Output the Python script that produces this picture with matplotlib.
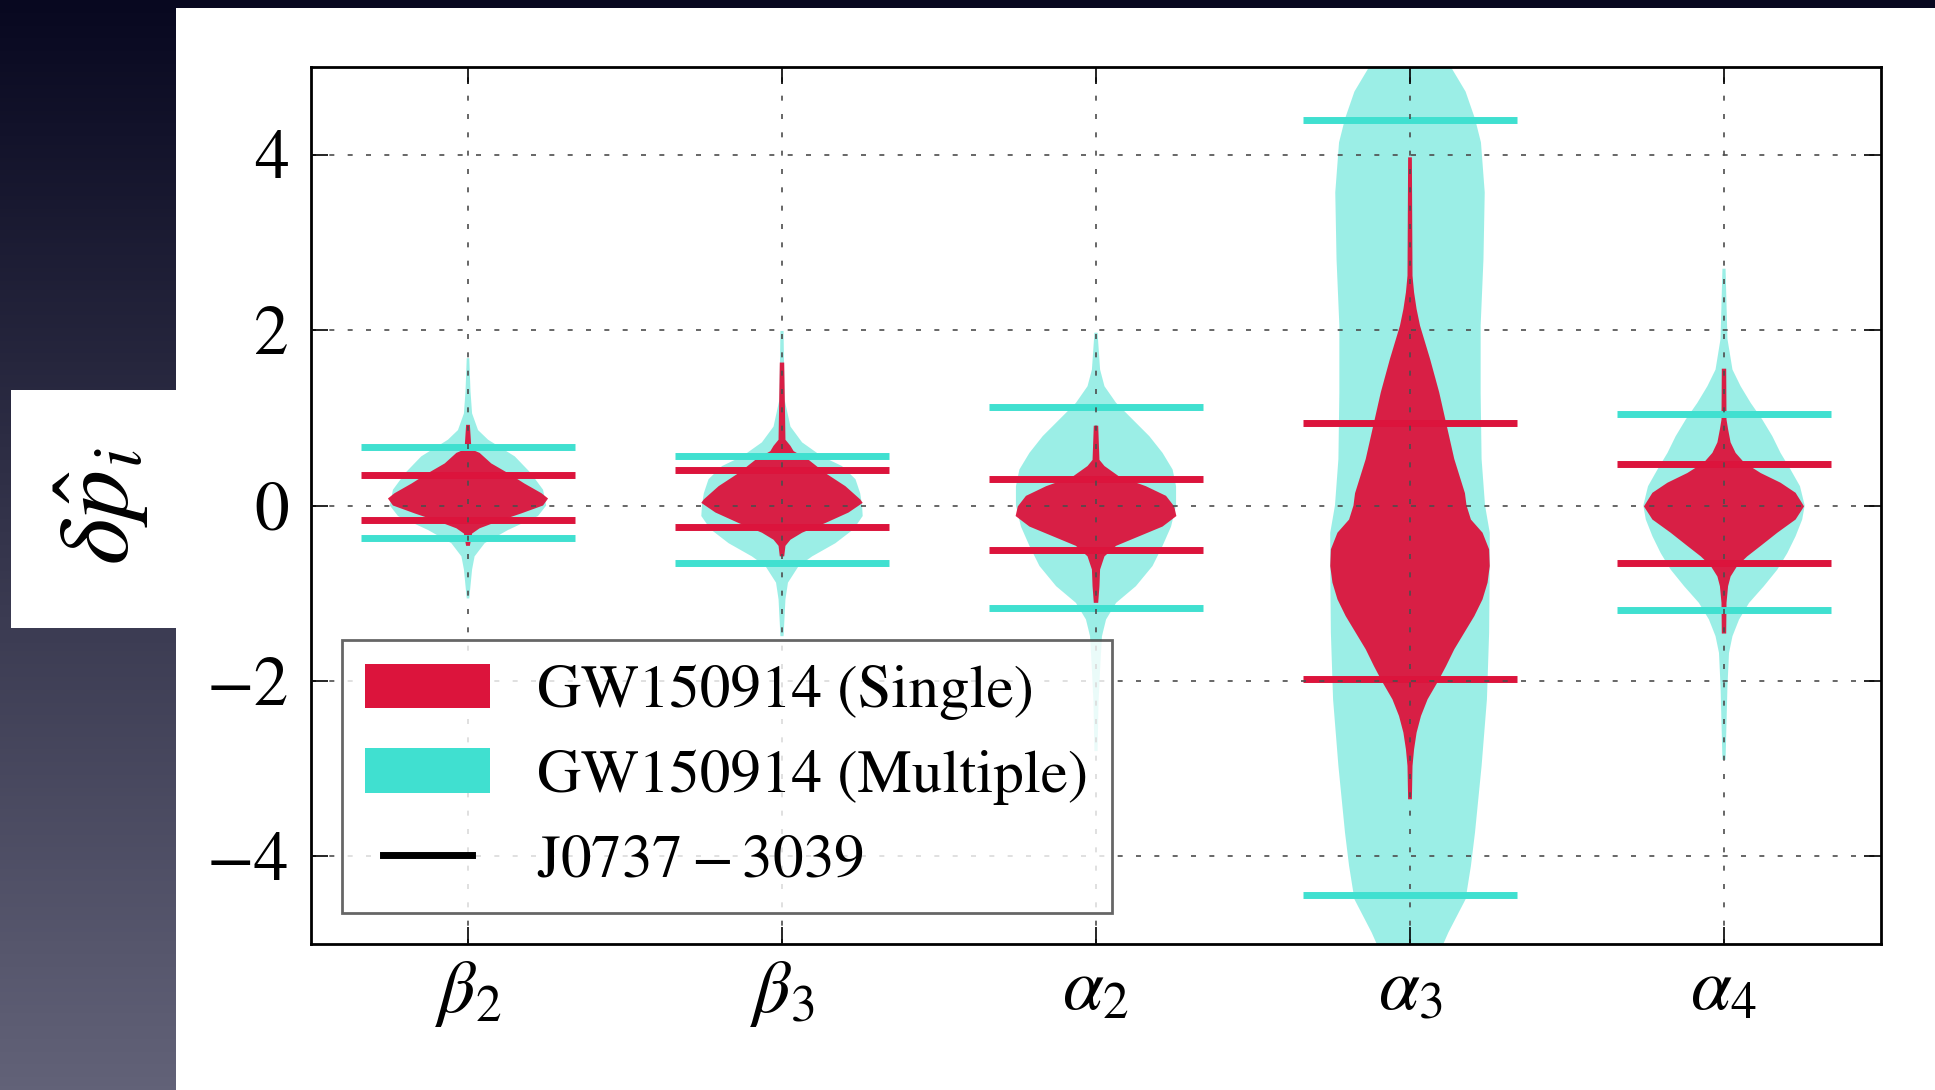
import numpy as np
import matplotlib.pyplot as plt
from matplotlib.patches import Patch, Rectangle
from matplotlib.lines import Line2D

plt.rcParams['font.family'] = 'STIXGeneral'
plt.rcParams['mathtext.fontset'] = 'stix'

# --- Parameters ---
params = [r'$\beta_2$', r'$\beta_3$', r'$\alpha_2$', r'$\alpha_3$', r'$\alpha_4$']
positions = [1, 2, 3, 4, 5]

# --- Violin outlines: y value and half-width of each posterior ---
b2_single_y = [0.92, 0.64, 0.60, 0.48, 0.37, 0.25, 0.14, 0.08, 0.0, -0.09, -0.18, -0.26, -0.32, -0.46]
b2_single_w = [0.006, 0.011, 0.037, 0.074, 0.127, 0.180, 0.234, 0.255, 0.239, 0.170, 0.096, 0.037, 0.013, 0.006]
b2_multi_y = [1.68, 1.30, 1.05, 0.86, 0.75, 0.56, 0.37, 0.18, 0.0, -0.12, -0.28, -0.43, -0.58, -0.73, -1.06]
b2_multi_w = [0.004, 0.008, 0.013, 0.032, 0.064, 0.149, 0.200, 0.239, 0.249, 0.223, 0.127, 0.053, 0.021, 0.013, 0.004]

b3_single_y = [1.63, 0.75, 0.68, 0.62, 0.52, 0.37, 0.22, 0.07, 0.03, -0.08, -0.20, -0.31, -0.39, -0.46, -0.58]
b3_single_w = [0.007, 0.011, 0.027, 0.037, 0.085, 0.138, 0.202, 0.249, 0.257, 0.212, 0.138, 0.064, 0.027, 0.011, 0.007]
b3_multi_y = [1.99, 1.21, 0.90, 0.72, 0.56, 0.45, 0.30, 0.14, 0.0, -0.12, -0.27, -0.43, -0.58, -0.69, -0.88, -1.07, -1.49]
b3_multi_w = [0.005, 0.008, 0.027, 0.064, 0.127, 0.191, 0.234, 0.249, 0.255, 0.257, 0.228, 0.170, 0.096, 0.053, 0.019, 0.011, 0.005]

a2_single_y = [0.91, 0.52, 0.45, 0.33, 0.22, 0.11, -0.01, -0.12, -0.24, -0.35, -0.46, -0.58, -0.73, -0.92, -1.11]
a2_single_w = [0.007, 0.011, 0.027, 0.074, 0.159, 0.223, 0.249, 0.256, 0.212, 0.138, 0.064, 0.027, 0.013, 0.011, 0.007]
a2_multi_y = [1.97, 1.55, 1.36, 1.17, 0.98, 0.79, 0.60, 0.41, 0.22, 0.0, -0.24, -0.46, -0.69, -0.92, -1.11,
              -1.30, -1.49, -1.87, -2.25, -2.80]
a2_multi_w = [0.005, 0.013, 0.027, 0.064, 0.117, 0.170, 0.212, 0.244, 0.255, 0.255, 0.239, 0.212, 0.180, 0.127,
              0.064, 0.032, 0.019, 0.013, 0.008, 0.005]

a3_single_y = [3.97, 2.62, 2.43, 2.24, 2.05, 1.67, 1.29, 0.91, 0.53, 0.14, 0.0, -0.16, -0.31, -0.50, -0.69,
               -0.88, -1.07, -1.26, -1.45, -1.64, -1.83, -2.0, -2.21, -2.40, -2.59, -2.78, -2.97, -3.35]
a3_single_w = [0.006, 0.008, 0.013, 0.021, 0.032, 0.064, 0.093, 0.117, 0.141, 0.175, 0.180, 0.194, 0.231, 0.252,
               0.254, 0.247, 0.231, 0.205, 0.173, 0.141, 0.115, 0.090, 0.056, 0.035, 0.021, 0.013, 0.008, 0.006]
a3_multi_y = [5.3, 5.02, 4.72, 4.41, 4.14, 3.57, 2.81, 2.05, 1.29, 0.53, 0.0, -0.31, -0.69, -1.45, -2.21,
              -2.97, -3.73, -4.11, -4.49, -4.87, -5.0, -5.3]
a3_multi_w = [0.032, 0.127, 0.177, 0.207, 0.226, 0.238, 0.234, 0.225, 0.225, 0.228, 0.239, 0.254, 0.254, 0.252,
              0.245, 0.228, 0.207, 0.194, 0.177, 0.122, 0.106, 0.032]

a4_single_y = [1.56, 0.98, 0.87, 0.72, 0.60, 0.49, 0.37, 0.26, 0.145, -0.01, -0.16, -0.31, -0.46, -0.58, -0.69,
               -0.81, -0.92, -1.11, -1.46]
a4_single_w = [0.007, 0.008, 0.013, 0.021, 0.037, 0.064, 0.117, 0.180, 0.228, 0.255, 0.228, 0.170, 0.117, 0.074,
               0.042, 0.021, 0.013, 0.008, 0.007]
a4_multi_y = [2.70, 1.90, 1.55, 1.36, 1.17, 0.98, 0.79, 0.60, 0.41, 0.22, 0.0, -0.16, -0.35, -0.54, -0.73,
              -0.92, -1.11, -1.30, -1.49, -1.68, -2.06, -2.90]
a4_multi_w = [0.005, 0.011, 0.027, 0.053, 0.085, 0.122, 0.154, 0.180, 0.212, 0.242, 0.257, 0.249, 0.228, 0.202,
              0.170, 0.127, 0.080, 0.048, 0.027, 0.016, 0.011, 0.005]

# --- 90% credible bounds ---
single_hi = [0.35, 0.40, 0.30, 0.94, 0.47]
single_lo = [-0.16, -0.24, -0.51, -1.98, -0.65]
multi_hi = [0.665, 0.56, 1.125, 4.40, 1.04]
multi_lo = [-0.365, -0.65, -1.17, -4.44, -1.19]

single = [(b2_single_y, b2_single_w), (b3_single_y, b3_single_w), (a2_single_y, a2_single_w),
          (a3_single_y, a3_single_w), (a4_single_y, a4_single_w)]
multi = [(b2_multi_y, b2_multi_w), (b3_multi_y, b3_multi_w), (a2_multi_y, a2_multi_w),
         (a3_multi_y, a3_multi_w), (a4_multi_y, a4_multi_w)]

RED = 'crimson'
TEAL = 'turquoise'
W, H = 1935, 1090

fig = plt.figure(figsize=(W / 100, H / 100), dpi=100)

# slide background
bg = fig.add_axes([0, 0, 1, 1], zorder=-10)
top = np.array([8, 8, 32]) / 255
bottom = np.array([98, 98, 120]) / 255
t = np.linspace(0, 1, 256)[:, None, None]
grad = top * (1 - t) + bottom * t
bg.imshow(grad, aspect='auto', extent=[0, 1, 0, 1], origin='upper')
bg.axis('off')

fig.add_artist(Rectangle((176 / W, 0), 1, 1 - 8 / H, transform=fig.transFigure,
                         facecolor='white', edgecolor='none', zorder=-5))
fig.add_artist(Rectangle((11 / W, 1 - 628 / H), 166 / W, 238 / H, transform=fig.transFigure,
                         facecolor='white', edgecolor='none', zorder=-5))

ax = fig.add_axes([311 / W, 1 - 944 / H, 1570 / W, 877 / H])

for x, (my, mw), (sy, sw) in zip(positions, multi, single):
    my, mw = np.array(my), np.array(mw)
    sy, sw = np.array(sy), np.array(sw)
    ax.fill_betweenx(my, x - mw, x + mw, facecolor=TEAL, alpha=0.52, lw=0, zorder=1)
    ax.fill_betweenx(sy, x - sw, x + sw, facecolor=RED, alpha=0.95, lw=0, zorder=1.2)

xs = np.array(positions)
ax.hlines(multi_hi, xs - 0.34, xs + 0.34, color=TEAL, lw=5, zorder=2)
ax.hlines(multi_lo, xs - 0.34, xs + 0.34, color=TEAL, lw=5, zorder=2)
ax.hlines(single_hi, xs - 0.34, xs + 0.34, color=RED, lw=5, zorder=2)
ax.hlines(single_lo, xs - 0.34, xs + 0.34, color=RED, lw=5, zorder=2)

ax.set_xlim(0.5, 5.5)
ax.set_ylim(-5, 5)
ax.set_xticks(positions)
ax.set_xticklabels(params)
ax.set_yticks([-4, -2, 0, 2, 4])
ax.tick_params(direction='in', length=12, width=1.2, top=True, right=True, labelsize=50)
ax.tick_params(axis='x', pad=11, labelsize=53)
ax.tick_params(axis='y', pad=16)
for s in ax.spines.values():
    s.set_linewidth(2)

ax.grid(True, color='0.3', linestyle=(0, (3, 8)), lw=1.2)
ax.set_axisbelow(False)

ax.set_ylabel(r'$\delta\hat{p}_i$', fontsize=72, va='center')
ax.yaxis.set_label_coords(-0.134, 0.5)

handles = [Patch(facecolor=RED, edgecolor='none'),
           Patch(facecolor=TEAL, edgecolor='none'),
           Line2D([], [], color='k', lw=5)]
names = ['GW150914 (Single)', 'GW150914 (Multiple)', r'$\mathrm{J0737-3039}$']
leg = ax.legend(handles, names, loc='lower left', bbox_to_anchor=(0.0197, 0.0353),
                borderaxespad=0, fontsize=44, handlelength=2.05, handleheight=0.75,
                handletextpad=0.77, labelspacing=0.46, borderpad=0.38, numpoints=2,
                fancybox=False, framealpha=0.8, edgecolor='0.25')
leg.get_frame().set_linewidth(2)

fig.savefig('out.png', dpi=100)
